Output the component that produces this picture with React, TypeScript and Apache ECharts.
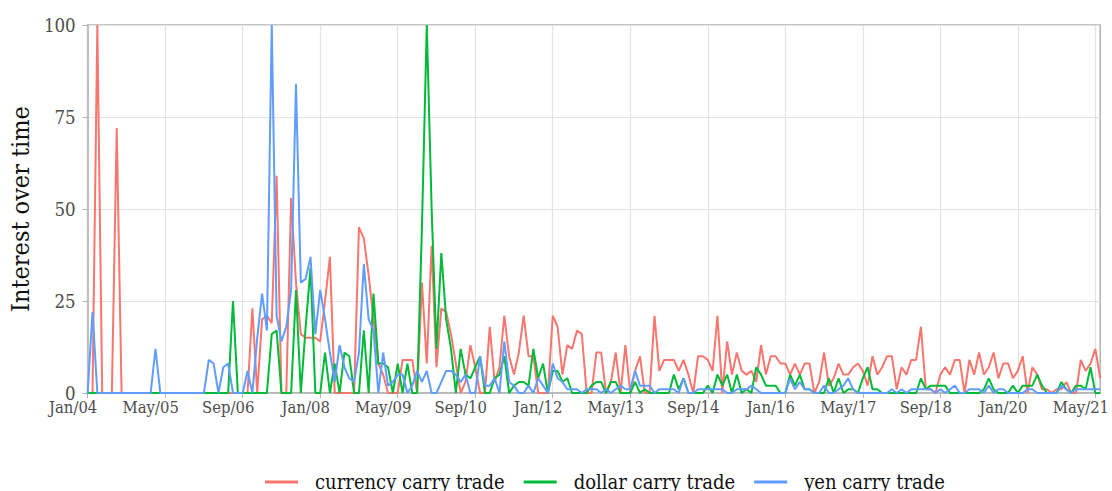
import React, { useEffect, useRef } from "react";
import * as echarts from "echarts";

const START_YEAR = 2004;
const N_MONTHS = 210;
const MONTHS = ["Jan", "Feb", "Mar", "Apr", "May", "Jun", "Jul", "Aug", "Sep", "Oct", "Nov", "Dec"];
const categories: string[] = [];
for (let i = 0; i < N_MONTHS; i++) {
  const y = START_YEAR + Math.floor(i / 12);
  categories.push(MONTHS[i % 12] + "/" + String(y % 100).padStart(2, "0"));
}
const LABEL_EVERY = 16;

const seriesNames = ["currency carry trade", "dollar carry trade", "yen carry trade"];
const seriesColors = ["#F8766D", "#00BA38", "#619CFF"];

const currency = [
  0, 0, 100, 0, 0, 0, 72, 0, 0, 0, 0, 0, 0, 0, 0, 0, 0, 0, 0, 0,
  0, 0, 0, 0, 0, 0, 0, 0, 0, 0, 0, 0, 0, 0, 23, 0, 20, 21, 19, 59,
  0, 0, 53, 30, 16, 15, 15, 15, 14, 25, 37, 0, 0, 0, 0, 0, 45, 42, 32, 20,
  8, 5, 0, 0, 0, 9, 9, 9, 0, 30, 8, 40, 7, 23, 22, 16, 8, 0, 3, 13,
  7, 0, 0, 18, 3, 7, 21, 10, 5, 11, 21, 10, 10, 0, 0, 0, 21, 18, 5, 13,
  12, 17, 16, 0, 0, 11, 11, 0, 3, 11, 0, 13, 0, 6, 10, 0, 0, 21, 6, 9,
  9, 9, 6, 9, 5, 0, 10, 10, 9, 6, 21, 0, 14, 5, 11, 6, 5, 6, 3, 13,
  5, 10, 10, 8, 8, 5, 8, 5, 8, 8, 0, 3, 11, 2, 4, 8, 5, 5, 7, 8,
  6, 2, 10, 5, 7, 10, 10, 1, 7, 5, 9, 9, 18, 1, 1, 0, 5, 7, 5, 9,
  9, 0, 9, 5, 11, 5, 7, 11, 4, 8, 8, 4, 6, 10, 0, 7, 5, 1, 1, 0,
  1, 1, 3, 0, 0, 9, 6, 8, 12, 4,
];

const dollar = [
  0, 0, 0, 0, 0, 0, 0, 0, 0, 0, 0, 0, 0, 0, 0, 0, 0, 0, 0, 0,
  0, 0, 0, 0, 0, 0, 0, 0, 0, 0, 25, 0, 0, 0, 0, 0, 0, 0, 16, 17,
  0, 0, 0, 28, 0, 18, 34, 0, 0, 11, 0, 8, 0, 11, 10, 0, 0, 17, 0, 27,
  8, 8, 7, 0, 8, 0, 8, 0, 0, 45, 100, 50, 12, 38, 20, 12, 0, 12, 5, 4,
  7, 10, 0, 0, 4, 5, 10, 0, 2, 3, 3, 2, 12, 4, 8, 0, 6, 6, 3, 4,
  0, 0, 0, 0, 2, 3, 3, 0, 3, 3, 0, 0, 0, 3, 0, 1, 0, 0, 0, 0,
  0, 5, 1, 4, 0, 0, 0, 0, 2, 0, 5, 2, 5, 0, 5, 0, 1, 0, 7, 5,
  2, 2, 2, 0, 0, 5, 2, 5, 1, 1, 0, 0, 0, 4, 0, 4, 0, 1, 1, 0,
  4, 7, 1, 1, 0, 0, 0, 0, 0, 0, 0, 0, 4, 1, 2, 2, 2, 2, 0, 0,
  0, 0, 0, 0, 0, 1, 4, 1, 0, 0, 0, 2, 0, 2, 2, 2, 5, 2, 0, 0,
  0, 3, 1, 0, 2, 2, 1, 7, 0, 0,
];

const yen = [
  0, 22, 0, 0, 0, 0, 0, 0, 0, 0, 0, 0, 0, 0, 12, 0, 0, 0, 0, 0,
  0, 0, 0, 0, 0, 9, 8, 0, 7, 8, 0, 0, 0, 6, 0, 15, 27, 17, 100, 21,
  14, 18, 28, 84, 30, 31, 37, 16, 28, 20, 11, 3, 13, 7, 4, 3, 11, 35, 20, 17,
  0, 11, 2, 3, 5, 5, 0, 2, 6, 3, 6, 0, 0, 3, 6, 6, 5, 3, 5, 0,
  0, 10, 2, 2, 4, 0, 14, 3, 2, 0, 0, 2, 0, 4, 2, 0, 8, 4, 3, 1,
  1, 1, 0, 1, 1, 1, 0, 1, 0, 1, 2, 1, 1, 6, 2, 2, 2, 0, 1, 1,
  1, 1, 0, 4, 0, 0, 1, 1, 1, 1, 1, 1, 0, 0, 1, 1, 1, 2, 1, 0,
  0, 0, 0, 0, 0, 4, 1, 3, 1, 1, 0, 0, 2, 0, 0, 1, 2, 4, 1, 0,
  0, 0, 0, 0, 0, 0, 1, 0, 1, 0, 1, 1, 1, 1, 1, 0, 1, 0, 1, 2,
  0, 0, 1, 1, 1, 0, 2, 0, 1, 1, 0, 0, 0, 0, 1, 1, 0, 0, 0, 0,
  0, 2, 1, 0, 1, 1, 1, 1, 1, 1,
];

const yTicks = [0, 25, 50, 75, 100];
const FONT = "'DejaVu Serif Condensed', 'DejaVu Serif', serif";
const W = 1112;
const H = 491;

export default function App() {
  const ref = useRef<HTMLDivElement>(null);
  useEffect(() => {
    if (!ref.current) return;
    const chart = echarts.init(ref.current, null, { renderer: "svg", width: W, height: H });
    const data = [currency, dollar, yen];
    const showLabel = (i: number) => i % LABEL_EVERY === 0;
    chart.setOption({
      animation: false,
      textStyle: { fontFamily: FONT },
      grid: {
        left: 86,
        right: 8,
        top: 25,
        bottom: 98,
        show: true,
        borderColor: "#b3b3b3",
        borderWidth: 1.5,
      },
      legend: {
        top: 467,
        left: 260,
        icon: "rect",
        itemWidth: 33,
        itemHeight: 3,
        itemGap: 19,
        textStyle: { fontFamily: FONT, fontSize: 20, color: "#111", padding: [0, 0, 0, 12] },
        data: seriesNames,
      },
      xAxis: {
        type: "category",
        boundaryGap: false,
        data: categories,
        axisLine: { show: true, lineStyle: { color: "#b3b3b3", width: 1.5 } },
        axisTick: { show: true, interval: showLabel, length: 5, lineStyle: { color: "#b3b3b3" } },
        axisLabel: {
          interval: showLabel,
          color: "#4d4d4d",
          fontSize: 16.5,
          fontFamily: FONT,
          margin: 6,
          align: "center",
          padding: [0, 29, 0, 0],
        },
        splitLine: { show: true, interval: showLabel, lineStyle: { color: "#e3e3e3", width: 1.2 } },
      },
      yAxis: {
        type: "value",
        min: 0,
        max: 100,
        interval: 25,
        name: "Interest over time",
        nameLocation: "middle",
        nameGap: 47,
        nameTextStyle: { fontFamily: FONT, fontSize: 25, color: "#111" },
        axisLine: { show: true, lineStyle: { color: "#b3b3b3", width: 1.5 } },
        axisTick: { show: true, length: 5, lineStyle: { color: "#b3b3b3" } },
        axisLabel: {
          color: "#4d4d4d",
          fontSize: 18.5,
          fontFamily: FONT,
          margin: 12,
          formatter: (v: number) => (yTicks.includes(v) ? String(v) : ""),
        },
        splitLine: { show: true, lineStyle: { color: "#e3e3e3", width: 1.2 } },
      },
      series: seriesNames.map((name, k) => ({
        name,
        type: "line",
        data: data[k],
        symbol: "none",
        lineStyle: { color: seriesColors[k], width: 2 },
        itemStyle: { color: seriesColors[k] },
      })),
    });
    return () => chart.dispose();
  }, []);
  return (
    <div
      ref={ref}
      style={{ position: "fixed", left: 0, top: 0, width: W, height: H, background: "#fff" }}
    />
  );
}
